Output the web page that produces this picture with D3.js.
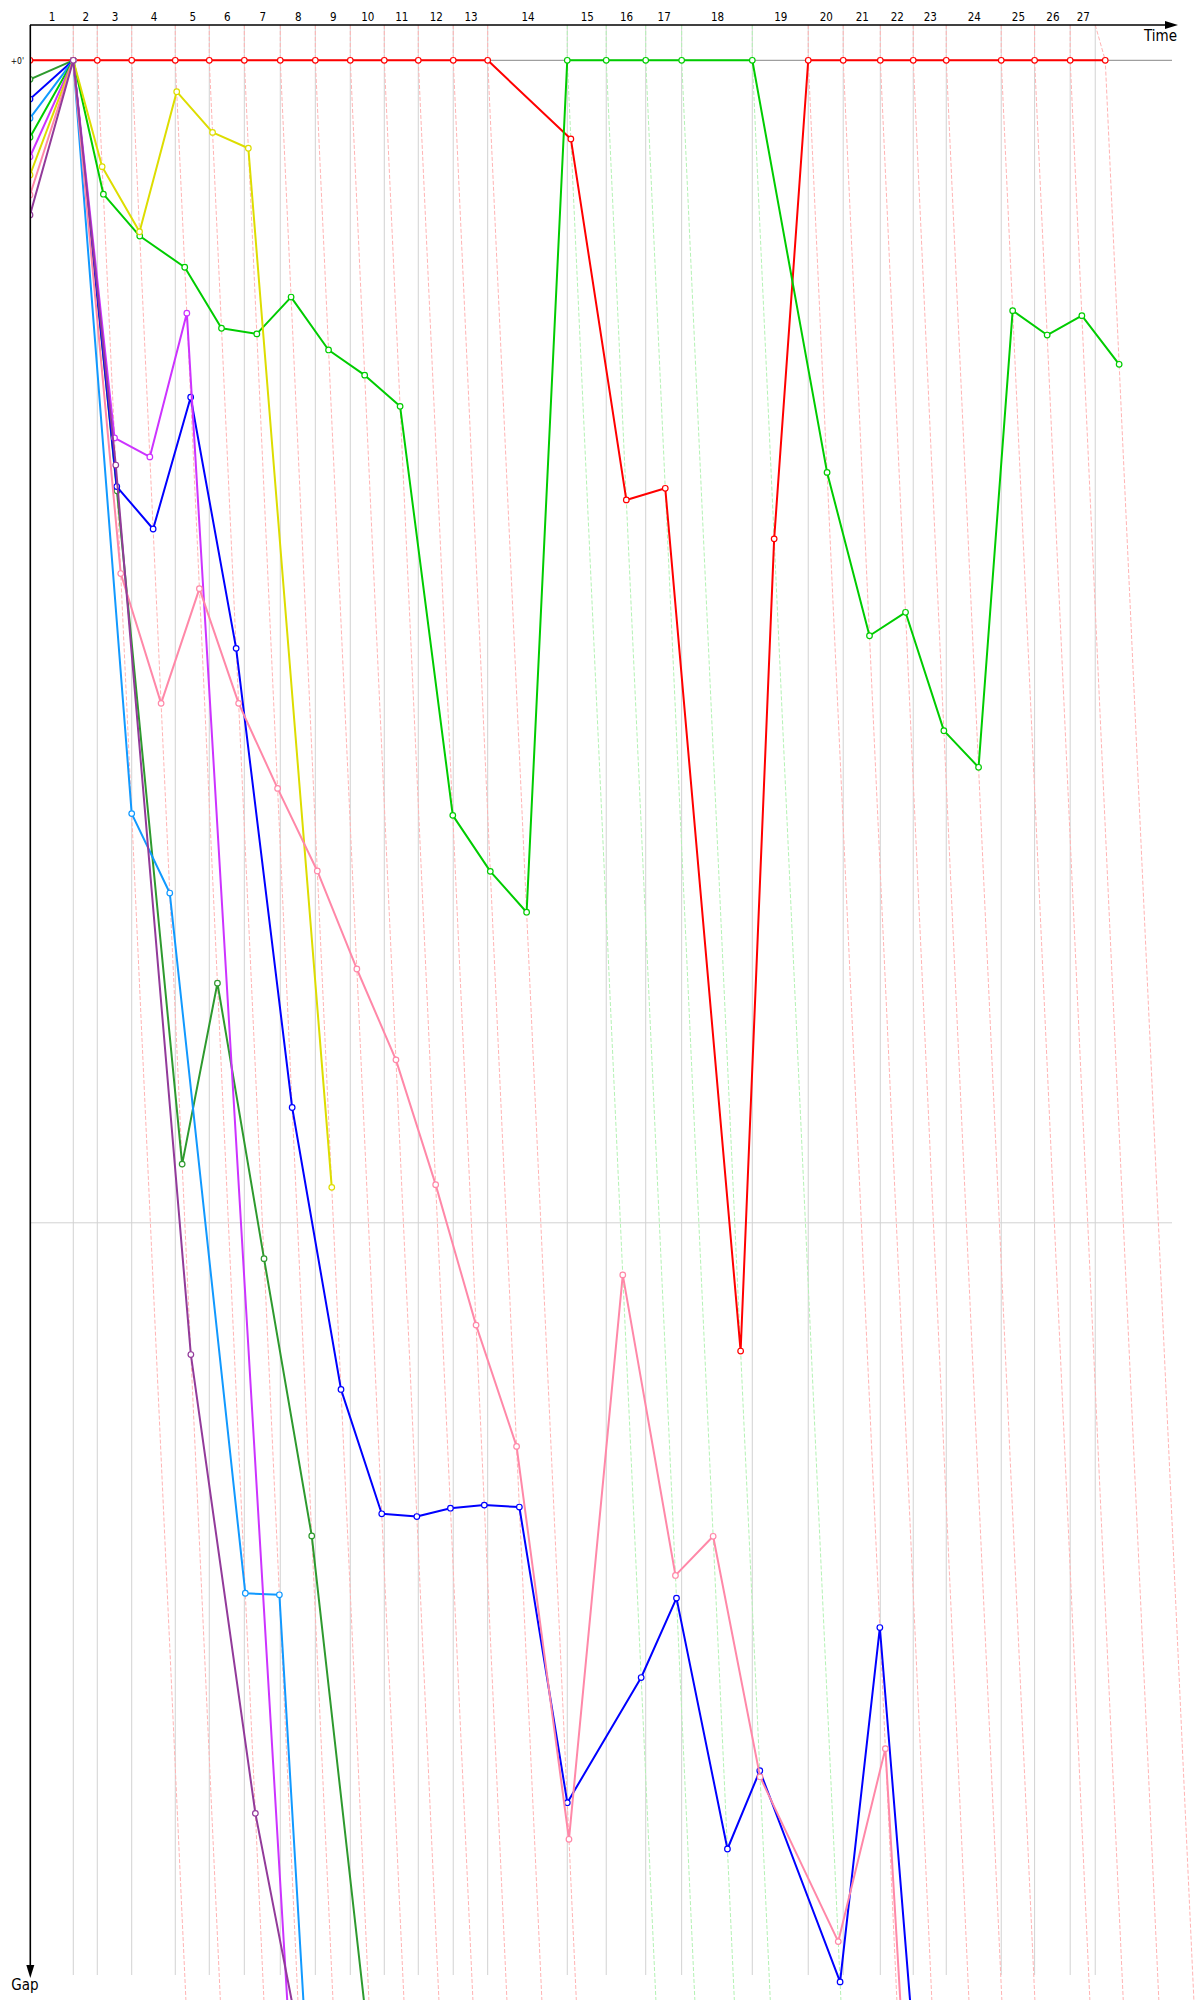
<!DOCTYPE html>
<html>
<head>
<meta charset="utf-8">
<script src="https://cdn.jsdelivr.net/npm/d3@7"></script>
<style>
  body { margin: 0; background: #fff; }
  svg { display: block; font-family: "DejaVu Sans Condensed", "DejaVu Sans", sans-serif; }
</style>
</head>
<body>
<div id="chart"></div>
<script>
// leader's race time (s) at the end of each lap, index 0 = start
const leaderTimes = [0, 48.9, 76.0, 114.9, 164.1, 202.5, 242.1, 282.7, 322.3, 361.8, 400.2, 438.6, 478.1, 517.0,
    606.9, 650.9, 695.5, 736.1, 815.9, 879.1, 918.6, 960.5, 997.7, 1035.0, 1097.1, 1134.8, 1175.0, 1214.6];
// lap marks on the time axis (laps 1..27)
const lapTicks = [48.9, 76.0, 114.9, 164.1, 202.5, 242.1, 282.7, 322.3, 361.8, 400.2, 438.6, 478.1, 517.0,
    606.9, 650.9, 695.5, 736.1, 815.9, 879.1, 918.6, 960.5, 997.7, 1035.0, 1097.1, 1134.8, 1175.0, 1203.3];
const greenLedLaps = [14, 15, 16, 17, 18];

// gap to the leader (s) per lap, lap 0 = grid
const gapsRed = [0, 0, 0, 0, 0, 0, 0, 0, 0, 0, 0, 0, 0, 0, 4.06, 22.69, 22.09, 66.62, 24.7, 0, 0, 0, 0, 0, 0, 0, 0, 0];
const gapsDarkGreen = [0.98, 0, 22.22, 56.97, 47.63, 61.85, 76.16, 104];
const gapsBlue = [2.0, 0, 22.0, 24.19, 17.39, 30.35, 54.05, 68.6, 75.02, 75.16, 74.73, 74.57, 74.67, 89.93,
    83.47, 79.37, 92.32, 88.28, 99.18, 80.89, 132];
const gapsLightBlue = [2.99, 0, 38.88, 42.98, 79.12, 79.2, 213];
const gapsGreen = [3.97, 0, 6.91, 9.07, 10.68, 13.83, 14.12, 12.22, 14.95, 16.25, 17.86, 38.97, 41.86, 43.97,
    0, 0, 0, 0, 0, 21.27, 29.70, 28.49, 34.60, 36.49, 12.92, 14.18, 13.18, 15.69];
const gapsMagenta = [4.98, 0, 19.49, 20.47, 13.05, 140];
const gapsYellow = [5.92, 0, 5.49, 8.85, 1.62, 3.72, 4.54, 58.17];
const gapsPink = [6.95, 0, 26.49, 33.19, 27.27, 33.19, 37.58, 41.84, 46.90, 51.59, 58.03, 65.28, 71.54, 91.82,
    62.69, 78.2, 76.18, 88.6, 97.1, 87.14, 220];
const gapsPurple = [7.98, 0, 20.89, 66.8, 90.48, 102.3];

(function gapChart(){
    let width = 1200,
    height = 2000,
    margin = ({top: 25, right: 22, bottom: 25, left: 30});

    const svg = d3.select("#chart")
    .append("svg")
    .attr("width", width)
    .attr("height", height);

    const series = [
        {gaps: gapsRed, color: "#ff0000"},
        {gaps: gapsDarkGreen, color: "#2e9a2e"},
        {gaps: gapsBlue, color: "#0000ff"},
        {gaps: gapsLightBlue, color: "#1199ff"},
        {gaps: gapsGreen, color: "#00cc00"},
        {gaps: gapsMagenta, color: "#cc33ff"},
        {gaps: gapsYellow, color: "#dddd00"},
        {gaps: gapsPink, color: "#ff88a8"},
        {gaps: gapsPurple, color: "#923a9a"}
    ];

    // Scales: time across, gap downwards
    let x = d3.scaleLinear()
    .domain([0, 1290])
    .range([margin.left, 1172]);

    let y = d3.scaleLinear()
    .domain([0, 60])
    .range([60.3, 1222.8]);

    const axisBottomY = height - margin.bottom;

    // grid
    svg.append("g")
    .selectAll("line")
    .data(lapTicks)
    .join("line")
    .attr("x1", d => x(d)).attr("x2", d => x(d))
    .attr("y1", margin.top).attr("y2", axisBottomY)
    .attr("stroke", "#d2d2d2");

    svg.append("line")
    .attr("x1", x(0)).attr("x2", x.range()[1])
    .attr("y1", y(60)).attr("y2", y(60))
    .attr("stroke", "#d2d2d2");

    svg.append("line")
    .attr("x1", x(0)).attr("x2", x.range()[1])
    .attr("y1", y(0)).attr("y2", y(0))
    .attr("stroke", "#888");

    // lap lines: from the lap mark, through the leader, down the constant-lap diagonal
    const maxGap = 110;
    let lapLines = lapTicks.map((t, i) => {
        let lap = i + 1;
        let pts = [[x(t), margin.top], [x(leaderTimes[lap]), y(0)]];
        if (lap > 1) pts.push([x(leaderTimes[lap] + maxGap), y(maxGap)]);
        return {lap: lap, pts: pts};
    });

    svg.append("g")
    .selectAll("path")
    .data(lapLines)
    .join("path")
    .attr("d", d => d3.line()(d.pts))
    .attr("fill", "none")
    .attr("stroke", d => greenLedLaps.includes(d.lap) ? "#b4f2b4" : "#ffb4b4")
    .attr("stroke-dasharray", "4,2");

    const clip = svg.append("clipPath").attr("id", "plot")
    .append("rect")
    .attr("x", margin.left).attr("y", 0)
    .attr("width", width - margin.left).attr("height", height);

    const plot = svg.append("g").attr("clip-path", "url(#plot)");

    const pos = (g, i) => [i === 0 ? x(0) : x(leaderTimes[i] + g), y(g)];

    for (let s of series) {
        let pts = s.gaps.map(pos);
        plot.append("path")
        .attr("d", d3.line()(pts))
        .attr("fill", "none")
        .attr("stroke", s.color)
        .attr("stroke-width", 2)
        .attr("stroke-linejoin", "round");

        plot.append("g")
        .selectAll("circle")
        .data(pts)
        .join("circle")
        .attr("cx", d => d[0])
        .attr("cy", d => d[1])
        .attr("r", 2.8)
        .attr("fill", "white")
        .attr("stroke", s.color)
        .attr("stroke-width", 1.2);
    }

    // Axes
    let mids = lapTicks.map((t, i) => ((i === 0 ? 0 : lapTicks[i - 1]) + t) / 2);

    svg.append("g")
    .attr("transform", `translate(0,${margin.top})`)
    .call(d3.axisTop(x).tickValues(mids).tickFormat((d, i) => i + 1).tickSize(0).tickPadding(4))
    .call(g => g.select(".domain").remove())
    .attr("font-family", null)
    .attr("font-size", 11.5)
    .selectAll("text").attr("fill", "#000");

    svg.append("g")
    .attr("transform", `translate(${margin.left},0)`)
    .call(d3.axisLeft(y).tickValues([0]).tickFormat(() => "+0'").tickSize(0).tickPadding(6))
    .call(g => g.select(".domain").remove())
    .attr("font-family", null)
    .attr("font-size", 8.5)
    .selectAll("text").attr("fill", "#000");

    svg.append("line")
    .attr("x1", margin.left).attr("x2", 1166)
    .attr("y1", margin.top).attr("y2", margin.top)
    .attr("stroke", "#000").attr("stroke-width", 1.3);
    svg.append("path")
    .attr("d", `M1165,${margin.top - 4}L1178,${margin.top}L1165,${margin.top + 4}Z`)
    .attr("fill", "#000");

    svg.append("line")
    .attr("x1", margin.left + 0.3).attr("x2", margin.left + 0.3)
    .attr("y1", margin.top).attr("y2", 1966)
    .attr("stroke", "#000").attr("stroke-width", 1.6);
    svg.append("path")
    .attr("d", `M${margin.left - 3.7},1965L${margin.left + 0.3},1978L${margin.left + 4.3},1965Z`)
    .attr("fill", "#000");

    svg.append("text")
    .attr("x", 1177).attr("y", 41)
    .attr("text-anchor", "end")
    .attr("font-size", 15)
    .text("Time");

    svg.append("text")
    .attr("x", 25).attr("y", 1990)
    .attr("text-anchor", "middle")
    .attr("font-size", 15)
    .text("Gap");
})();
</script>
</body>
</html>
